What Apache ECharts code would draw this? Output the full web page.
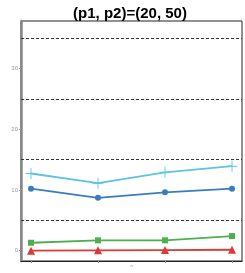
<!DOCTYPE html>
<html><head><meta charset="utf-8">
<script src="https://cdn.jsdelivr.net/npm/echarts@6/dist/echarts.min.js"></script>
<style>html,body{margin:0;padding:0;background:#fff}#c{width:245px;height:273px}</style>
</head><body><div id="c"></div>
<script>
const xPos = [1, 2, 3, 4];
const cyanVals = [12.7, 11.1, 12.9, 13.9];
const blueVals = [10.2, 8.7, 9.6, 10.2];
const greenVals = [1.3, 1.7, 1.7, 2.4];
const redVals = [0.0, 0.05, 0.1, 0.15];
const yTickVals = [0, 10, 20, 30];
const refLines = [5, 15, 25, 35];
const titleText = '(p1, p2)=(20, 50)';

const plus = 'path://M4.6,0 L5.4,0 L5.4,4.6 L10,4.6 L10,5.4 L5.4,5.4 L5.4,10 L4.6,10 L4.6,5.4 L0,5.4 L0,4.6 L4.6,4.6 Z';
function pairs(v){ return xPos.map((x,i)=>[x,v[i]]); }
function ser(vals,color,symbol,size){
  return {type:'line',data:pairs(vals),symbol:symbol,symbolSize:size,
    lineStyle:{color:color,width:1.8},itemStyle:{color:color},showSymbol:true,z:3};
}
const chart = echarts.init(document.getElementById('c'),null,{renderer:'canvas'});
const s = [
  ser(cyanVals,'#5bc4e6',plus,11),
  ser(blueVals,'#3a7dbf','circle',6),
  ser(greenVals,'#4cb050','rect',6),
  ser(redVals,'#d93a35','triangle',8)
];
s[0].markLine = {silent:true,symbol:'none',label:{show:false},
  lineStyle:{color:'#333',type:[3,2],width:1},
  data: refLines.map(v=>({yAxis:v}))};
chart.setOption({
  animation:false,
  title:{text:titleText,left:125,top:1,textAlign:'center',
    textStyle:{fontFamily:'Liberation Sans',fontWeight:'bold',fontSize:15,color:'#000'}},
  grid:{left:21,right:3,top:21,bottom:9,show:true,borderColor:'#222',borderWidth:1},
  xAxis:{type:'value',min:0.851,max:4.149,
    axisLine:{show:true,onZero:false,lineStyle:{color:'#222',width:1.2}},
    axisTick:{show:true,customValues:xPos,length:2,lineStyle:{color:'#888'}},
    axisLabel:{show:false},splitLine:{show:false},
    name:'n',nameLocation:'middle',nameGap:3,nameTextStyle:{fontSize:4,color:'#888'}},
  yAxis:{type:'value',min:-1.7,max:37.8,
    axisLine:{show:true,onZero:false,lineStyle:{color:'#888',width:2.5}},
    axisTick:{show:true,customValues:yTickVals,length:2,lineStyle:{color:'#999'}},
    axisLabel:{show:true,customValues:yTickVals,fontSize:6,color:'#999',margin:3,fontFamily:'Liberation Sans'},
    splitLine:{show:false}},
  series:s
});
</script></body></html>
